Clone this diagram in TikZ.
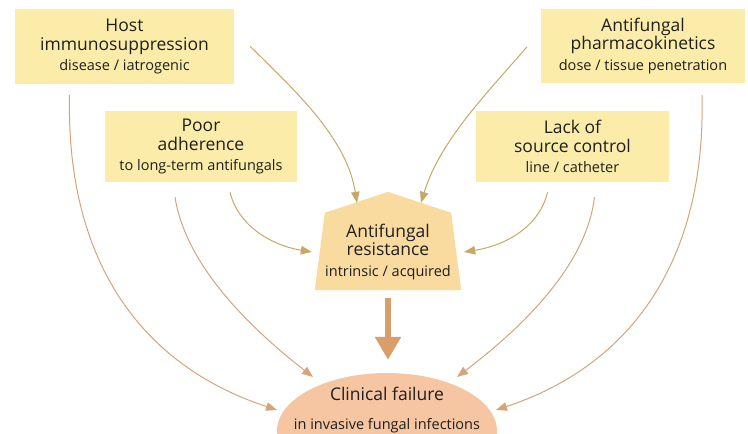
\documentclass[tikz,border=0pt]{standalone}
\usepackage{fontspec}
\setmainfont{Open Sans}
\usetikzlibrary{arrows.meta,calc,shapes.geometric,backgrounds}
\definecolor{boxfill}{HTML}{FBEDA9}
\definecolor{resfill}{HTML}{F9DB9F}
\definecolor{failfill}{HTML}{F6C5A2}
\definecolor{inarrow}{HTML}{C9A865}
\definecolor{outarrow}{HTML}{D6A478}
\definecolor{bigarrow}{HTML}{D99E6C}
\definecolor{txt}{HTML}{1E1E1E}
\newcommand{\subtxt}[1]{{\fontsize{14.5}{18.5}\selectfont #1}}
\begin{document}
\begin{tikzpicture}[x=1pt,y=-1pt,
  factor/.style={fill=boxfill, inner sep=0pt, align=center, text=txt,
    font=\fontsize{17.5}{18.5}\selectfont},
  centre/.style={inner sep=0pt, align=center, text=txt,
    font=\fontsize{17.5}{18.5}\selectfont},
  inarr/.style={draw=inarrow, line width=1pt, -{Triangle[length=11pt,width=8.5pt]}},
  outarr/.style={draw=outarrow, line width=1pt, -{Triangle[length=11pt,width=8.5pt]}}]
\useasboundingbox (0,0) rectangle (748,434);

% factor boxes
\node[factor, minimum width=219pt, minimum height=75pt] (host) at (124.5,46.5)
  {Host\\immunosuppression\\[2pt]\subtxt{disease / iatrogenic}};
\node[factor, minimum width=192pt, minimum height=71pt] (poor) at (201,146.5)
  {Poor\\adherence\\[2pt]\subtxt{to long-term antifungals}};
\node[factor, minimum width=204pt, minimum height=74pt] (pk) at (643,46)
  {Antifungal\\pharmacokinetics\\[2pt]\subtxt{dose / tissue penetration}};
\node[factor, minimum width=193pt, minimum height=71pt] (lack) at (572.5,146.5)
  {Lack of\\source control\\[2pt]\subtxt{line / catheter}};

% central node (pentagon)
\node[centre, minimum width=146pt, minimum height=76pt] (res) at (388,252)
  {Antifungal\\resistance\\[2pt]\subtxt{intrinsic / acquired}};

% outcome
\node[ellipse, fill=failfill, minimum width=220pt, minimum height=116pt, inner sep=0pt] (fail) at (387,431) {};
\node[centre] (failtext) at (387,410)
  {Clinical failure\\[11pt]\subtxt{in invasive fungal infections}};

\begin{scope}[on background layer]
  \fill[white] (0,0) rectangle (748,434);
  \fill[resfill] ($(res.north)+(0,-22)$) -- ($(res.north west)+(10,-1)$)
    -- (res.south west) -- (res.south east) -- ($(res.north east)+(-10,-1)$) -- cycle;
\end{scope}

% big arrow
\draw[bigarrow, line width=6pt, -{Triangle[width=25pt,length=23pt]},
  shorten <=8pt, shorten >=13pt] (res.south) -- (res.south |- fail.north);

% arrows into resistance
\draw[inarr] ($(host.east)+(16,0)$) .. controls (300,95) and (347,140) .. ($(res.north)+(-31,-11)$);
\draw[inarr] ($(pk.west)+(-14,1)$) .. controls (490,90) and (440,140) .. ($(res.north)+(33,-11)$);
\draw[inarr] ($(poor.south)+(29,10)$) .. controls (238,225) and (270,245) .. ($(res.west)+(-3,0)$);
\draw[inarr] ($(lack.south)+(-25,10)$) .. controls (540,225) and (508,245) .. ($(res.east)+(3,0)$);

% arrows into clinical failure
\draw[outarr] ($(host.south)+(-55,11)$) .. controls (66,260) and (140,365) .. ($(fail.center)+(-110,-21)$);
\draw[outarr] ($(poor.south)+(-26,15)$) .. controls (185,260) and (240,320) .. ($(fail.center)+(-74,-54)$);
\draw[outarr] ($(lack.south)+(22,15)$) .. controls (587,260) and (532,320) .. ($(fail.center)+(70,-54)$);
\draw[outarr] ($(pk.south)+(59,12)$) .. controls (706,260) and (632,365) .. ($(fail.center)+(109,-21)$);
\end{tikzpicture}
\end{document}
